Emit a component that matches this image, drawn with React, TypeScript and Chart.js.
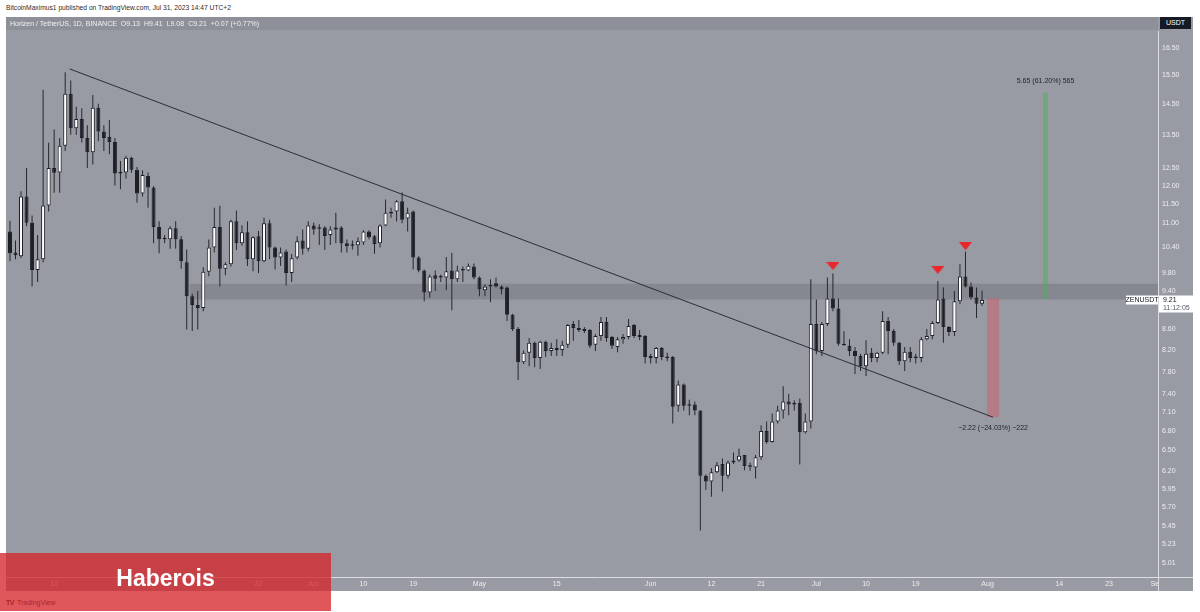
import React, { useEffect, useRef } from 'react';
import { Chart, registerables } from 'chart.js';

Chart.register(...registerables);

// ZENUSDT daily candles, Feb 5 2023 -> Jul 31 2023 (index 0 = first candle)
const opens = [
  10.79, 10.28, 10.19, 11.70, 11.01, 9.87, 10.12, 11.46, 12.50, 12.37,
  13.16, 14.84, 13.70, 14.00, 13.40, 12.96, 14.37, 13.60, 13.43, 13.27,
  12.34, 12.37, 12.80, 12.45, 11.78, 12.27, 11.95, 10.90, 10.60, 10.60,
  10.87, 10.60, 10.05, 9.29, 9.10, 9.04, 9.83, 10.40, 10.90, 9.90,
  10.00, 11.05, 10.50, 10.77, 10.12, 10.67, 10.07, 11.00, 10.40, 10.16,
  10.30, 9.80, 10.16, 10.57, 10.37, 10.94, 10.86, 10.89, 10.70, 10.84,
  10.89, 10.50, 10.44, 10.45, 10.52, 10.79, 10.67, 10.50, 10.94, 11.27,
  11.30, 11.57, 11.12, 11.30, 10.16, 9.86, 9.37, 9.75, 9.70, 9.70,
  9.86, 9.66, 9.88, 9.86, 9.95, 9.70, 9.42, 9.50, 9.57, 9.50,
  9.48, 8.90, 8.61, 7.97, 8.15, 8.34, 8.05, 8.36, 8.18, 8.24,
  8.20, 8.30, 8.71, 8.63, 8.61, 8.59, 8.30, 8.47, 8.75, 8.45,
  8.26, 8.41, 8.45, 8.69, 8.49, 8.47, 8.09, 8.05, 8.24, 8.07,
  8.07, 7.21, 7.57, 7.21, 7.23, 7.13, 6.13, 6.05, 6.18, 6.30,
  6.13, 6.32, 6.35, 6.43, 6.27, 6.25, 6.40, 6.80, 6.63, 6.95,
  7.13, 7.28, 7.23, 7.26, 6.78, 6.95, 8.71, 8.18, 8.71, 9.24,
  9.03, 8.30, 8.28, 8.18, 8.09, 7.90, 8.15, 8.05, 8.15, 8.77,
  8.57, 8.34, 7.99, 8.17, 8.05, 8.05, 8.41, 8.47, 8.73, 9.24,
  8.65, 8.55, 9.18, 9.72, 9.50, 9.26, 9.13,
];
const highs = [
  11.06, 10.57, 11.84, 12.50, 11.20, 10.70, 14.98, 13.25, 13.66, 13.40,
  15.60, 15.30, 14.40, 14.35, 13.80, 14.80, 14.50, 13.80, 13.97, 13.40,
  12.70, 12.86, 12.83, 12.53, 12.43, 12.37, 11.98, 11.05, 10.70, 10.92,
  11.05, 10.68, 10.35, 9.34, 9.40, 9.93, 10.59, 11.40, 11.45, 10.05,
  11.09, 11.33, 10.95, 11.05, 10.67, 10.80, 11.14, 11.09, 10.42, 10.40,
  10.35, 10.24, 10.67, 10.84, 11.05, 11.02, 10.97, 10.92, 10.92, 11.27,
  10.92, 10.59, 10.57, 10.64, 10.82, 10.82, 10.70, 10.97, 11.62, 11.40,
  11.60, 11.81, 11.40, 11.33, 10.19, 9.88, 9.77, 9.86, 9.77, 10.17,
  10.27, 9.97, 9.95, 10.02, 10.02, 9.72, 9.55, 9.66, 9.70, 9.52,
  9.50, 8.92, 8.65, 8.19, 8.43, 8.36, 8.38, 8.38, 8.34, 8.41,
  8.38, 8.71, 8.77, 8.79, 8.65, 8.61, 8.51, 8.85, 8.85, 8.47,
  8.45, 8.51, 8.81, 8.71, 8.59, 8.49, 8.13, 8.26, 8.26, 8.15,
  8.09, 7.64, 7.59, 7.31, 7.28, 7.13, 6.15, 6.24, 6.33, 6.38,
  6.35, 6.47, 6.53, 6.43, 6.32, 6.43, 6.89, 6.95, 7.08, 7.21,
  7.54, 7.41, 7.30, 7.33, 7.08, 9.66, 9.22, 8.75, 9.70, 9.79,
  9.24, 8.57, 8.41, 8.26, 8.13, 8.39, 8.24, 8.17, 8.97, 8.85,
  8.61, 8.36, 8.26, 8.26, 8.13, 8.45, 8.61, 8.77, 9.62, 9.48,
  8.67, 9.40, 10.00, 10.30, 9.59, 9.48, 9.41,
];
const lows = [
  10.07, 10.12, 10.15, 10.92, 9.50, 9.60, 10.05, 11.30, 11.80, 11.80,
  13.00, 13.50, 13.50, 13.26, 12.50, 12.60, 13.30, 13.00, 12.90, 12.00,
  11.90, 12.20, 12.36, 11.53, 11.70, 11.40, 10.50, 10.26, 10.50, 10.37,
  10.37, 9.90, 8.60, 8.57, 8.60, 8.97, 9.73, 10.28, 9.50, 9.75,
  9.95, 10.34, 10.44, 9.96, 9.84, 9.80, 10.05, 10.12, 9.88, 9.96,
  9.52, 9.60, 10.12, 10.23, 10.30, 10.71, 10.46, 10.34, 10.46, 10.50,
  10.28, 10.28, 10.35, 10.20, 10.46, 10.60, 10.25, 10.40, 10.92, 11.14,
  11.04, 11.00, 10.79, 9.88, 9.82, 9.18, 9.26, 9.40, 9.60, 9.42,
  8.99, 9.60, 9.60, 9.84, 9.66, 9.29, 9.29, 9.16, 9.48, 9.33,
  8.77, 8.57, 7.65, 7.94, 7.90, 7.88, 7.85, 8.07, 8.09, 8.09,
  8.09, 8.24, 8.38, 8.55, 8.53, 8.24, 8.18, 8.38, 8.36, 8.22,
  8.16, 8.32, 8.41, 8.43, 8.39, 7.95, 7.95, 7.95, 8.01, 7.99,
  6.92, 7.11, 7.13, 7.05, 7.05, 5.40, 5.93, 5.84, 6.17, 5.91,
  6.09, 6.30, 6.33, 6.21, 6.20, 6.09, 6.36, 6.60, 6.62, 6.92,
  7.00, 7.05, 7.13, 6.29, 6.76, 6.84, 8.12, 8.09, 8.67, 8.97,
  8.28, 8.28, 8.09, 7.76, 7.81, 7.72, 7.97, 7.97, 8.12, 8.12,
  8.28, 7.92, 7.81, 7.97, 7.95, 7.97, 8.39, 8.41, 8.71, 8.34,
  8.47, 8.47, 9.12, 9.48, 9.22, 8.83, 9.08,
];
const closes = [
  10.26, 10.21, 11.70, 11.01, 9.87, 10.12, 11.46, 12.50, 12.36, 13.16,
  14.84, 13.70, 14.00, 13.40, 12.96, 14.37, 13.60, 13.40, 13.27, 12.34,
  12.37, 12.80, 12.45, 11.78, 12.30, 11.95, 10.90, 10.60, 10.63, 10.87,
  10.60, 10.07, 9.29, 9.10, 9.04, 9.83, 10.40, 10.90, 9.90, 10.00,
  11.05, 10.50, 10.77, 10.12, 10.65, 10.07, 11.00, 10.40, 10.16, 10.28,
  9.80, 10.14, 10.55, 10.37, 10.94, 10.84, 10.89, 10.68, 10.84, 10.89,
  10.50, 10.43, 10.45, 10.55, 10.79, 10.65, 10.48, 10.94, 11.27, 11.25,
  11.57, 11.09, 11.27, 10.16, 9.86, 9.37, 9.72, 9.67, 9.72, 9.84,
  9.66, 9.86, 9.86, 9.97, 9.70, 9.44, 9.50, 9.52, 9.50, 9.44,
  8.90, 8.61, 7.97, 8.15, 8.34, 8.05, 8.36, 8.18, 8.24, 8.20,
  8.30, 8.69, 8.63, 8.59, 8.57, 8.28, 8.47, 8.75, 8.43, 8.28,
  8.41, 8.45, 8.67, 8.47, 8.45, 8.07, 8.05, 8.24, 8.07, 8.05,
  7.19, 7.57, 7.21, 7.23, 7.13, 6.13, 6.05, 6.18, 6.28, 6.13,
  6.32, 6.35, 6.42, 6.27, 6.26, 6.40, 6.80, 6.63, 6.95, 7.13,
  7.28, 7.23, 7.26, 6.78, 6.95, 8.71, 8.18, 8.71, 9.24, 9.03,
  8.32, 8.29, 8.18, 8.09, 7.90, 8.13, 8.05, 8.15, 8.77, 8.57,
  8.34, 7.99, 8.17, 8.05, 8.06, 8.41, 8.47, 8.73, 9.22, 8.65,
  8.55, 9.18, 9.72, 9.50, 9.26, 9.13, 9.21,
];

// time axis labels (positions are day indexes)
const xTickIdx = [8, 45, 55, 64, 73, 85, 99, 116, 127, 136, 146, 155, 164, 177, 190, 199, 207.3];
const xTickLabels = ['11', '22', 'Apr', '10', '19', 'May', '15', 'Jun', '12', '21', 'Jul', '10', '19', 'Aug', '14', '23', 'Se'];

// price axis labels
const yTickValues = [16.5, 15.5, 14.5, 13.5, 12.5, 12.0, 11.5, 11.0, 10.4, 9.8, 9.4, 8.6, 8.2, 7.8, 7.4, 7.1, 6.8, 6.5, 6.2, 5.95, 5.7, 5.45, 5.23, 5.01];

// horizontal resistance zone
const zoneStartIdx = 32.5;
const zoneTop = 9.56;
const zoneBottom = 9.22;

// descending trend line (two anchor points)
const trendIdx = [10.8, 178];
const trendPrice = [15.72, 7.02];

// red arrow markers
const markerIdx = [149, 168, 173];
const markerPrice = [9.96, 9.87, 10.43];

// price range measurements
const upMeasureIdx = 187.5;
const upMeasure = [9.23, 14.88];
const upMeasureLabel = '5.65 (61.20%) 565';
const downMeasureIdx = 178;
const downMeasure = [9.24, 7.02];
const downMeasureLabel = '\u22122.22 (\u221224.03%) \u2212222';

const lastPrice = 9.21;
const countdown = '11:12:05';

// view range
const X_MIN = -0.72;
const X_MAX = 207.86;
const Y_MAX = 16.5 * Math.exp(31 / 432);
const Y_MIN = 16.5 * Math.exp(-529 / 432);

const FONT = '"Liberation Sans", Arial, sans-serif';

export default function App() {
  const ref = useRef<HTMLCanvasElement>(null);

  useEffect(() => {
    const canvas = ref.current;
    if (!canvas) return;

    const tri = document.createElement('canvas');
    tri.width = 13;
    tri.height = 8;
    const tctx = tri.getContext('2d');
    if (tctx) {
      tctx.fillStyle = '#e8262b';
      tctx.beginPath();
      tctx.moveTo(0, 0);
      tctx.lineTo(13, 0);
      tctx.lineTo(6.5, 8);
      tctx.closePath();
      tctx.fill();
    }

    const idx = opens.map((_, i) => i);
    const wickData = idx.map((i) => ({ x: i, y: [lows[i], highs[i]] }));
    const bodyData = idx.map((i) => ({ x: i, y: [Math.min(opens[i], closes[i]), Math.max(opens[i], closes[i])] }));
    const bodyColors = idx.map((i) => (closes[i] >= opens[i] ? '#ffffff' : '#1d1f27'));

    const overlay = {
      id: 'overlay',
      afterDraw(chart: any) {
        const { ctx, chartArea, scales } = chart;
        const x = scales.x;
        const y = scales.y;
        ctx.save();
        // axis separator lines
        ctx.strokeStyle = '#dcdee3';
        ctx.lineWidth = 1;
        ctx.beginPath();
        const ax = Math.round(chartArea.right) + 0.5;
        const ay = Math.round(chartArea.bottom) + 0.5;
        ctx.moveTo(ax, 14);
        ctx.lineTo(ax, chart.height);
        ctx.moveTo(0, ay);
        ctx.lineTo(chart.width, ay);
        ctx.stroke();

        // measurement labels
        ctx.font = `7px ${FONT}`;
        ctx.fillStyle = '#1e222d';
        ctx.textAlign = 'center';
        ctx.textBaseline = 'middle';
        ctx.fillText(upMeasureLabel, x.getPixelForValue(upMeasureIdx), y.getPixelForValue(upMeasure[1]) - 12);
        ctx.fillText(downMeasureLabel, x.getPixelForValue(downMeasureIdx), y.getPixelForValue(downMeasure[1]) + 11);

        // last price labels
        const py = Math.round(y.getPixelForValue(lastPrice));
        ctx.fillStyle = '#ffffff';
        ctx.fillRect(chartArea.right - 32, py - 4.5, 32, 9);
        ctx.fillRect(chartArea.right + 1, py - 4.5, 34, 17);
        ctx.fillStyle = '#131722';
        ctx.textAlign = 'center';
        ctx.fillText('ZENUSDT', chartArea.right - 16, py);
        ctx.textAlign = 'left';
        ctx.fillText(lastPrice.toFixed(2), chartArea.right + 5, py);
        ctx.fillStyle = '#555a66';
        ctx.fillText(countdown, chartArea.right + 5, py + 8);
        ctx.restore();
      },
    };

    const chart = new Chart(canvas, {
      type: 'bar',
      data: {
        datasets: [
          {
            type: 'line',
            label: 'zoneTop',
            data: [{ x: zoneStartIdx, y: zoneTop }, { x: X_MAX, y: zoneTop }],
            borderColor: 'rgba(0,0,0,0)',
            borderWidth: 0,
            pointRadius: 0,
            fill: false,
            order: 10,
          },
          {
            type: 'line',
            label: 'zoneBottom',
            data: [{ x: zoneStartIdx, y: zoneBottom }, { x: X_MAX, y: zoneBottom }],
            borderColor: 'rgba(0,0,0,0)',
            borderWidth: 0,
            pointRadius: 0,
            fill: '-1',
            backgroundColor: 'rgba(60,62,72,0.2)',
            order: 9,
          },
          {
            type: 'bar',
            label: 'up',
            data: [{ x: upMeasureIdx, y: [upMeasure[0], upMeasure[1]] }],
            backgroundColor: 'rgba(70,180,80,0.45)',
            barThickness: 5,
            grouped: false,
            inflateAmount: 0,
            order: 8,
          },
          {
            type: 'bar',
            label: 'down',
            data: [{ x: downMeasureIdx, y: [downMeasure[1], downMeasure[0]] }],
            backgroundColor: 'rgba(225,80,95,0.42)',
            barThickness: 12,
            grouped: false,
            inflateAmount: 0,
            order: 8,
          },
          {
            type: 'bar',
            label: 'wicks',
            data: wickData,
            backgroundColor: '#262830',
            barThickness: 1,
            grouped: false,
            inflateAmount: 0,
            order: 3,
          },
          {
            type: 'bar',
            label: 'bodies',
            data: bodyData,
            backgroundColor: bodyColors,
            borderColor: '#1d1f27',
            borderWidth: 1,
            borderSkipped: false,
            barThickness: 4,
            minBarLength: 1.5,
            grouped: false,
            inflateAmount: 0,
            order: 2,
          },
          {
            type: 'line',
            label: 'trend',
            data: [{ x: trendIdx[0], y: trendPrice[0] }, { x: trendIdx[1], y: trendPrice[1] }],
            borderColor: '#2a2d37',
            borderWidth: 1,
            pointRadius: 0,
            fill: false,
            order: 1,
          },
          {
            type: 'line',
            label: 'markers',
            data: markerIdx.map((m, i) => ({ x: m, y: markerPrice[i] })),
            showLine: false,
            pointStyle: tri,
            pointRadius: 6,
            order: 0,
          },
        ] as any,
      },
      options: {
        responsive: false,
        animation: false,
        events: [],
        layout: { padding: 0, autoPadding: false },
        plugins: {
          legend: { display: false },
          tooltip: { enabled: false },
        },
        scales: {
          x: {
            type: 'linear',
            min: X_MIN,
            max: X_MAX,
            offset: false,
            bounds: 'data',
            grid: { display: false, drawTicks: false, offset: false },
            border: { display: false },
            ticks: {
              autoSkip: false,
              maxRotation: 0,
              minRotation: 0,
              padding: 3,
              color: '#eceef2',
              font: { size: 7, family: FONT },
              callback: (_v: any, i: number) => xTickLabels[i] ?? '',
            },
            afterBuildTicks: (s: any) => {
              s.ticks = xTickIdx.map((v) => ({ value: v }));
            },
            afterFit: (s: any) => {
              s.height = 14;
              s.paddingLeft = 0;
              s.paddingRight = 0;
              s.paddingTop = 0;
              s.paddingBottom = 0;
            },
          },
          y: {
            type: 'logarithmic',
            position: 'right',
            min: Y_MIN,
            max: Y_MAX,
            bounds: 'data',
            beginAtZero: false,
            grid: { display: false, drawTicks: false },
            border: { display: false },
            ticks: {
              autoSkip: false,
              padding: 4,
              color: '#eceef2',
              font: { size: 7, family: FONT },
              callback: (v: any) => Number(v).toFixed(2),
            },
            afterBuildTicks: (s: any) => {
              s.ticks = yTickValues.map((v) => ({ value: v }));
            },
            afterFit: (s: any) => {
              s.width = 35;
              s.paddingLeft = 0;
              s.paddingRight = 0;
              s.paddingTop = 0;
              s.paddingBottom = 0;
            },
          },
        },
      } as any,
      plugins: [overlay],
    });

    return () => chart.destroy();
  }, []);

  return (
    <div
      style={{
        position: 'relative',
        width: 1200,
        height: 612,
        background: '#ffffff',
        overflow: 'hidden',
        fontFamily: FONT,
      }}
    >
      <style>{'body{margin:0}'}</style>
      <div style={{ position: 'absolute', left: 6, top: 4, fontSize: 6.7, color: '#2b2b2b', whiteSpace: 'nowrap', lineHeight: '8px' }}>
        BitcoinMaximus1 published on TradingView.com, Jul 31, 2023 14:47 UTC+2
      </div>
      <div style={{ position: 'absolute', left: 6, top: 17, width: 1187, height: 574, background: '#989ba3' }}>
        <canvas ref={ref} width={1187} height={574} style={{ display: 'block', width: 1187, height: 574 }} />
      </div>
      <div
        style={{
          position: 'absolute',
          left: 6,
          top: 17,
          width: 1152,
          height: 13,
          background: 'rgba(50,52,62,0.1)',
          color: '#eef0f3',
          fontSize: 7,
          lineHeight: '13px',
          whiteSpace: 'nowrap',
          paddingLeft: 4,
          boxSizing: 'border-box',
        }}
      >
        <span>Horizen / TetherUS, 1D, BINANCE</span>
        <span style={{ marginLeft: 4 }}>O9.13</span>
        <span style={{ marginLeft: 4 }}>H9.41</span>
        <span style={{ marginLeft: 4 }}>L9.08</span>
        <span style={{ marginLeft: 4 }}>C9.21</span>
        <span style={{ marginLeft: 4 }}>+0.07 (+0.77%)</span>
      </div>
      <div
        style={{
          position: 'absolute',
          left: 1160,
          top: 17,
          width: 31,
          height: 12,
          background: '#161a25',
          color: '#ffffff',
          fontSize: 7,
          lineHeight: '12px',
          textAlign: 'center',
        }}
      >
        USDT
      </div>
      <div style={{ position: 'absolute', left: 6, top: 598, fontSize: 7, color: '#131722', whiteSpace: 'nowrap', lineHeight: '9px' }}>
        <span style={{ fontWeight: 'bold', letterSpacing: -0.5 }}>TV</span>
        <span style={{ marginLeft: 3 }}>TradingView</span>
      </div>
      <div
        style={{
          position: 'absolute',
          left: 0,
          top: 553,
          width: 331,
          height: 58,
          background: 'rgba(214,36,42,0.77)',
        }}
      >
        <div
          style={{
            position: 'absolute',
            left: 0,
            top: 0,
            width: 331,
            height: 50,
            lineHeight: '50px',
            textAlign: 'center',
            color: '#ffffff',
            fontWeight: 'bold',
            fontSize: 23,
            fontFamily: FONT,
          }}
        >
          Haberois
        </div>
      </div>
    </div>
  );
}
